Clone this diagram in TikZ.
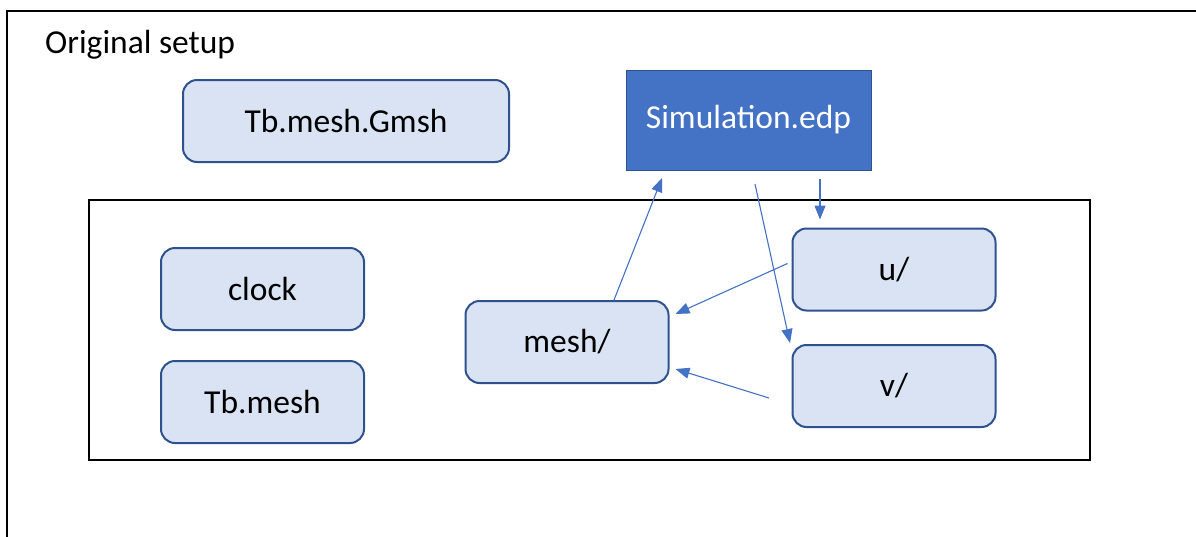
\documentclass[tikz,border=0pt]{standalone}
\usepackage{fontspec}
\setmainfont{Carlito}
\usetikzlibrary{arrows.meta}
\definecolor{boxfill}{HTML}{DAE3F3}
\definecolor{boxline}{HTML}{2F528F}
\definecolor{accent}{HTML}{4472C4}
\begin{document}
\begin{tikzpicture}[x=1pt,y=-1pt,
  lbox/.style={draw=boxline, fill=boxfill, line width=2pt, rounded corners=14pt,
    minimum width=203pt, minimum height=82pt, inner sep=0pt,
    font=\fontsize{33.5}{40}\selectfont, text=black},
  simbox/.style={draw=boxline, fill=accent, line width=1pt,
    minimum width=245pt, minimum height=100pt, inner sep=0pt,
    font=\fontsize{33.5}{40}\selectfont, text=white},
  conn/.style={draw=accent, line width=1.1pt, -{Triangle[length=14pt,width=11pt]}}]
\useasboundingbox (0,0) rectangle (1196,536);
\clip (0,0) rectangle (1196,536);
\fill[white] (0,0) rectangle (1196,536);
% outer frame (continues past the right and bottom edges)
\draw[line width=2pt] (7,560) -- (7,11) -- (1220,11) -- (1220,560) -- cycle;
\node[anchor=base west, font=\fontsize{33.5}{40}\selectfont, inner sep=0pt] (title) at (45,53) {Original setup};
% inner frame
\node[draw=black, line width=2pt, minimum width=1001pt, minimum height=260pt, inner sep=0pt] (frame) at (589.5,330) {};
% boxes
\node[lbox, minimum width=326pt] (gmsh) at (346,121) {Tb.mesh.Gmsh};
\node[simbox] (sim) at (748.5,120) {Simulation.edp};
\node[lbox] (clock) at (262.5,289) {clock};
\node[lbox] (tbmesh) at (262.5,402) {Tb.mesh};
\node[lbox] (mesh) at (567,342) {mesh/};
\node[lbox] (u) at (894,269.5) {u/};
\node[lbox] (v) at (894,386) {v/};
% free ends
\coordinate (c1) at (662,178);
\coordinate (c2) at (755,184);
\coordinate (c3) at (820,179);
\coordinate (c5) at (769,398);
% connectors
\draw[conn] ([xshift=47pt]mesh.north) -- (c1);
\draw[conn] (c2) -- ([shift={(-104,-43)}]v.center);
\draw[conn] (c3) -- ([shift={(-74,-8)}]u.north);
\draw[conn] ([shift={(-4,-6)}]u.west) -- ([shift={(6,-28)}]mesh.east);
\draw[conn] (c5) -- ([shift={(6,27)}]mesh.east);
\end{tikzpicture}
\end{document}
